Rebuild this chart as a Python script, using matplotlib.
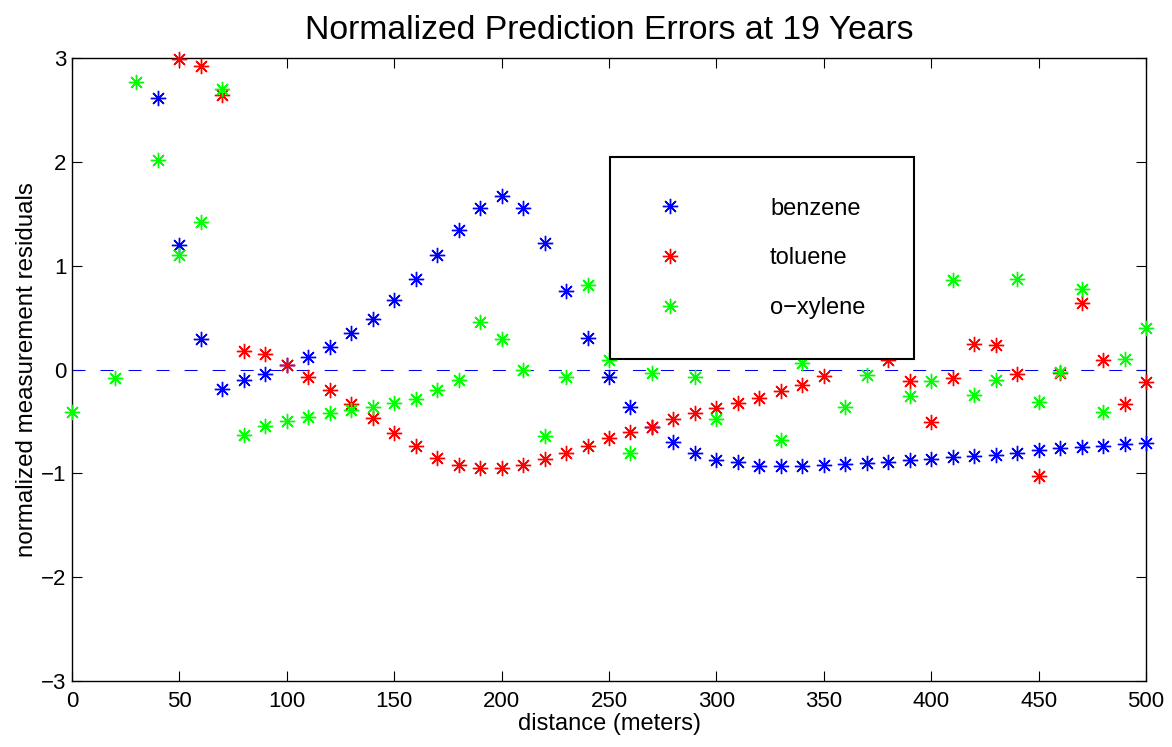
import numpy as np
import matplotlib
matplotlib.use("Agg")
import matplotlib.pyplot as plt

plt.rcParams['font.family'] = ['Liberation Sans', 'DejaVu Sans']

nan = np.nan

# distance along the transect (meters)
distance = list(range(0, 501, 10))

benzene = [nan, nan, nan, nan, 2.61, 1.20, 0.29, -0.19, -0.10, -0.04,
           0.04, 0.12, 0.22, 0.35, 0.49, 0.67, 0.87, 1.10, 1.34, 1.56,
           1.67, 1.56, 1.22, 0.76, 0.30, -0.07, -0.36, -0.55, -0.70, -0.80,
           -0.87, -0.89, -0.93, -0.93, -0.93, -0.92, -0.91, -0.90, -0.89, -0.87,
           -0.86, -0.84, -0.83, -0.82, -0.80, -0.78, -0.76, -0.75, -0.74, -0.72,
           -0.71]

toluene = [nan, nan, nan, nan, nan, 2.99, 2.92, 2.64, 0.18, 0.15,
           0.04, -0.07, -0.20, -0.33, -0.47, -0.61, -0.74, -0.85, -0.92, -0.95,
           -0.95, -0.92, -0.86, -0.80, -0.74, -0.66, -0.60, -0.55, -0.48, -0.42,
           -0.37, -0.32, -0.27, -0.21, -0.15, -0.06, nan, nan, 0.09, -0.11,
           -0.51, -0.08, 0.25, 0.24, -0.04, -1.03, -0.03, 0.64, 0.09, -0.33,
           -0.12]

oxylene = [-0.41, nan, -0.08, 2.77, 2.02, 1.10, 1.42, 2.70, -0.63, -0.54,
           -0.50, -0.46, -0.42, -0.39, -0.36, -0.32, -0.28, -0.20, -0.10, 0.46,
           0.29, 0.00, -0.64, -0.07, 0.81, 0.09, -0.80, -0.03, nan, -0.07,
           -0.48, nan, nan, -0.68, 0.06, nan, -0.36, -0.05, nan, -0.26,
           -0.11, 0.86, -0.25, -0.10, 0.87, -0.31, -0.02, 0.78, -0.41, 0.10,
           0.40]

series_names = ['benzene', 'toluene', 'o\u2212xylene']
series_colors = ['#0000ff', '#ff0000', '#00ff00']

x_ticks = list(range(0, 501, 50))
y_ticks = list(range(-3, 4))

fig = plt.figure(figsize=(11.72, 7.47), dpi=100)
ax = fig.add_axes([72 / 1172, 1 - 681 / 747, 1074 / 1172, 623 / 747])

asterisk = (8, 2, 0)
for vals, name, col in zip([benzene, toluene, oxylene], series_names, series_colors):
    ax.plot(distance, vals, linestyle='none', marker=asterisk, markersize=11,
            markeredgewidth=1.0, color=col, label=name, clip_on=False, zorder=3)

# zero reference line
ax.plot([0, 500], [0, 0], color='#0000ff', linewidth=0.75,
        linestyle=(0, (12.5, 14.4)), zorder=2)

ax.set_xlim(0, 500)
ax.set_ylim(-3, 3)
ax.set_xticks(x_ticks)
ax.set_yticks(y_ticks)
ax.tick_params(direction='in', length=7.5, width=0.8, top=True, right=True,
               labelsize=16, colors='black')
ax.tick_params(axis='x', pad=7)
ax.tick_params(axis='y', pad=4)
for sp in ax.spines.values():
    sp.set_linewidth(1.0)
    sp.set_color('black')

ax.set_title('Normalized Prediction Errors at 19 Years', fontsize=24.3, pad=14)
ax.set_xlabel('distance (meters)', fontsize=17, labelpad=1)
ax.set_ylabel('normalized measurement residuals', fontsize=17.4, labelpad=2)

leg = ax.legend(loc='upper left', bbox_to_anchor=(0.5009, 0.5185, 0.2831, 0.3226),
                mode='expand', borderaxespad=0, fontsize=17, numpoints=1,
                borderpad=1.72, labelspacing=1.17, handlelength=1.66,
                handletextpad=3.4, fancybox=False, framealpha=1,
                edgecolor='black')
leg.get_frame().set_linewidth(1.5)
leg.set_zorder(5)

fig.savefig('out.png', dpi=100, facecolor='white')
